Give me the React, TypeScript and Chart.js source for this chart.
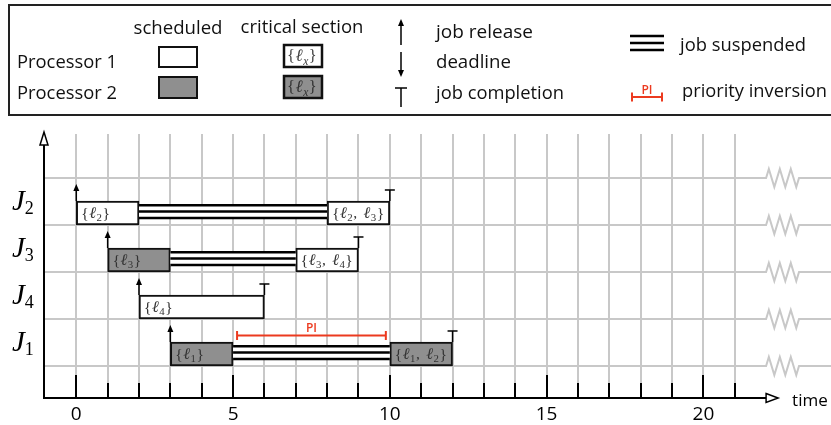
import React, { useEffect, useRef } from 'react';
import { Chart, registerables } from 'chart.js';

Chart.register(...registerables);

// ---------------- data ----------------
const rowJobs = ['J2', 'J3', 'J4', 'J1']; // top to bottom
const rowSubs = ['2', '3', '4', '1'];

const segJob = ['J2', 'J2', 'J3', 'J3', 'J4', 'J1', 'J1'];
const segStart = [0, 8, 1, 7, 2, 3, 10];
const segEnd = [2, 10, 3, 9, 6, 5, 12];
const segProcessor = [1, 1, 2, 1, 1, 2, 2];
const segLocks = [['2'], ['2', '3'], ['3'], ['3', '4'], ['4'], ['1'], ['1', '2']];

const suspJob = ['J2', 'J3', 'J1'];
const suspStart = [2, 3, 5];
const suspEnd = [8, 7, 10];

const releaseJob = ['J2', 'J3', 'J4', 'J1'];
const releaseTime = [0, 1, 2, 3];
const completionTime = [10, 9, 6, 12];

const piJob = 'J1';
const piStart = 5;
const piEnd = 10;

const gridTimes = [0, 1, 2, 3, 4, 5, 6, 7, 8, 9, 10, 11, 12, 13, 14, 15, 16, 17, 18, 19, 20, 21];
const tickLabels = [0, 5, 10, 15, 20];
const axisEnd = 22;
const breakStart = 22;
const breakEnd = 23.05;

// ---------------- styles ----------------
const SANS = '"Open Sans", Lato, sans-serif';
const SERIF = '"Liberation Serif", "DejaVu Serif", serif';
const GRAY_FILL = '#8f8f8f';
const GRID = '#c8c8c8';
const RED = '#ec3a1f';
const BAR_PX = 24;
const BAR_CENTER_OFF = 12 / 47;

const rowOf = (job: string) => rowJobs.length - 1 - rowJobs.indexOf(job);

function drawLocks(ctx: CanvasRenderingContext2D, x: number, y: number, locks: string[], size: number, color: string) {
  let cx = x;
  ctx.fillStyle = color;
  ctx.textBaseline = 'alphabetic';
  ctx.textAlign = 'left';
  const put = (t: string, fs: number, dy: number, italic = false, extra = 0) => {
    ctx.font = `${italic ? 'italic ' : ''}${fs}px ${SERIF}`;
    ctx.fillText(t, cx, y + dy);
    cx += ctx.measureText(t).width + extra;
  };
  put('{', size, 0, false, 0.5);
  locks.forEach((l, i) => {
    if (i) put(', ', size, 0, false, 2.5);
    put('ℓ', size * 1.05, 0, true, 0.5);
    put(l, size * 0.7, size * 0.22, /[a-z]/.test(l), 0.5);
  });
  put('}', size, 0);
}

function line(ctx: CanvasRenderingContext2D, x0: number, y0: number, x1: number, y1: number) {
  ctx.beginPath();
  ctx.moveTo(x0, y0);
  ctx.lineTo(x1, y1);
  ctx.stroke();
}

function fitText(ctx: CanvasRenderingContext2D, text: string, x: number, y: number, width: number, base: number, align: CanvasTextAlign = 'left') {
  ctx.font = `${base}px ${SANS}`;
  const w = ctx.measureText(text).width;
  const fs = Math.max(15, Math.min(base * 1.2, (base * width) / w));
  ctx.font = `${fs.toFixed(2)}px ${SANS}`;
  ctx.textAlign = align;
  ctx.fillText(text, x, y);
}

function upArrow(ctx: CanvasRenderingContext2D, x: number, yBottom: number, yTip: number) {
  ctx.strokeStyle = '#000';
  ctx.fillStyle = '#000';
  ctx.lineWidth = 1.5;
  line(ctx, x, yBottom, x, yTip + 5);
  ctx.beginPath();
  ctx.moveTo(x, yTip);
  ctx.lineTo(x - 3, yTip + 7);
  ctx.lineTo(x + 3, yTip + 7);
  ctx.closePath();
  ctx.fill();
}

function downArrow(ctx: CanvasRenderingContext2D, x: number, yTop: number, yTip: number) {
  ctx.strokeStyle = '#000';
  ctx.fillStyle = '#000';
  ctx.lineWidth = 1.5;
  line(ctx, x, yTop, x, yTip - 5);
  ctx.beginPath();
  ctx.moveTo(x, yTip);
  ctx.lineTo(x - 3, yTip - 7);
  ctx.lineTo(x + 3, yTip - 7);
  ctx.closePath();
  ctx.fill();
}

function tMark(ctx: CanvasRenderingContext2D, x: number, yBottom: number, yTop: number, half: number) {
  ctx.strokeStyle = '#000';
  ctx.lineWidth = 1.5;
  line(ctx, x, yBottom, x, yTop);
  line(ctx, x - half, yTop, x + half, yTop);
}

function piMark(ctx: CanvasRenderingContext2D, x0: number, x1: number, y: number, fs: number) {
  ctx.strokeStyle = RED;
  ctx.fillStyle = RED;
  ctx.lineWidth = 2;
  line(ctx, x0, y, x1, y);
  line(ctx, x0, y - 4.5, x0, y + 4.5);
  line(ctx, x1, y - 4.5, x1, y + 4.5);
  ctx.font = `600 ${fs}px ${SANS}`;
  ctx.textAlign = 'center';
  ctx.textBaseline = 'alphabetic';
  ctx.fillText('PI', (x0 + x1) / 2, y - 3);
}

const schedPlugin = {
  id: 'schedPlugin',
  beforeDatasetsDraw(chart: any) {
    const { ctx, chartArea: a, scales } = chart;
    const xs = scales.x;
    const ys = scales.y;
    ctx.save();
    // vertical grid
    ctx.strokeStyle = GRID;
    ctx.lineWidth = 2;
    gridTimes.forEach((t) => {
      const px = Math.round(xs.getPixelForValue(t));
      line(ctx, px, a.top, px, a.bottom);
    });
    // horizontal grid with break zigzag
    const z0 = xs.getPixelForValue(breakStart);
    const z1 = xs.getPixelForValue(breakEnd);
    const amp = 9;
    for (let r = 0; r <= rowJobs.length; r++) {
      const py = Math.round(ys.getPixelForValue(r));
      ctx.beginPath();
      ctx.moveTo(a.left, py);
      ctx.lineTo(z0, py);
      const fr = [1 / 12, 3 / 12, 5 / 12, 7 / 12, 9 / 12, 11 / 12];
      fr.forEach((f, i) => ctx.lineTo(z0 + (z1 - z0) * f, py + (i % 2 === 0 ? -amp : amp)));
      ctx.lineTo(z1, py);
      ctx.lineTo(a.right, py);
      ctx.stroke();
    }
    // axes
    ctx.strokeStyle = '#000';
    ctx.lineWidth = 2;
    const xEnd = xs.getPixelForValue(axisEnd);
    line(ctx, a.left, a.bottom, xEnd, a.bottom);
    line(ctx, a.left, a.bottom + 1, a.left, a.top + 11);
    ctx.lineWidth = 1.5;
    ctx.fillStyle = '#fff';
    ctx.beginPath();
    ctx.moveTo(xEnd, a.bottom - 4.5);
    ctx.lineTo(xEnd + 12, a.bottom);
    ctx.lineTo(xEnd, a.bottom + 4.5);
    ctx.closePath();
    ctx.fill();
    ctx.stroke();
    ctx.beginPath();
    ctx.moveTo(a.left - 4, a.top + 11);
    ctx.lineTo(a.left, a.top - 2);
    ctx.lineTo(a.left + 4, a.top + 11);
    ctx.closePath();
    ctx.fill();
    ctx.stroke();
    // ticks
    ctx.lineWidth = 2;
    gridTimes.forEach((t) => {
      const px = Math.round(xs.getPixelForValue(t));
      const len = t % 5 === 0 ? 23 : 15;
      line(ctx, px, a.bottom, px, a.bottom - len);
    });
    ctx.restore();
  },
  afterDatasetsDraw(chart: any) {
    const { ctx, scales } = chart;
    const xs = scales.x;
    const ys = scales.y;
    const barTop = (job: string) => ys.getPixelForValue(rowOf(job)) - BAR_PX;
    ctx.save();
    // suspension lines
    suspJob.forEach((j, i) => {
      const x0 = xs.getPixelForValue(suspStart[i]);
      const x1 = xs.getPixelForValue(suspEnd[i]);
      const top = barTop(j);
      ctx.fillStyle = '#fff';
      ctx.fillRect(x0, top + 3, x1 - x0, 15);
      ctx.strokeStyle = '#000';
      ctx.lineWidth = 2.5;
      [4.2, 10.6, 17].forEach((d) => line(ctx, x0, top + d, x1, top + d));
    });
    // critical section labels
    segJob.forEach((j, i) => {
      const x0 = xs.getPixelForValue(segStart[i]);
      drawLocks(ctx, x0 + 5, barTop(j) + 17, segLocks[i], 15.5, '#333');
    });
    // release arrows
    releaseJob.forEach((j, i) => {
      const x = xs.getPixelForValue(releaseTime[i]);
      const top = barTop(j);
      upArrow(ctx, x, top, top - 17);
    });
    // completion marks
    releaseJob.forEach((j, i) => {
      const x = xs.getPixelForValue(completionTime[i]);
      const top = barTop(j);
      tMark(ctx, x, top, top - 11, 5);
    });
    // priority inversion
    const pTop = barTop(piJob);
    piMark(ctx, xs.getPixelForValue(piStart) + 4, xs.getPixelForValue(piEnd) - 4, pTop - 6.5, 12);
    ctx.restore();
  },
  afterDraw(chart: any) {
    const { ctx, chartArea: a, scales } = chart;
    const xs = scales.x;
    const ys = scales.y;
    ctx.save();
    // tick labels
    ctx.fillStyle = '#000';
    ctx.font = `19px ${SANS}`;
    ctx.textAlign = 'center';
    ctx.textBaseline = 'alphabetic';
    tickLabels.forEach((t) => ctx.fillText(String(t), xs.getPixelForValue(t), a.bottom + 22));
    ctx.font = `17px ${SANS}`;
    ctx.textAlign = 'left';
    ctx.fillText('time', xs.getPixelForValue(axisEnd) + 26, a.bottom + 8);
    // row labels
    rowJobs.forEach((j, i) => {
      const top = ys.getPixelForValue(rowOf(j)) - BAR_PX;
      ctx.font = `italic 29px ${SERIF}`;
      ctx.fillText('J', 12, top + 9);
      const w = ctx.measureText('J').width;
      ctx.font = `18px ${SERIF}`;
      ctx.fillText(rowSubs[i], 12 + w, top + 13);
    });

    // ---------- legend ----------
    ctx.strokeStyle = '#222';
    ctx.lineWidth = 2;
    ctx.strokeRect(9, 5, 840, 110);
    ctx.fillStyle = '#111';
    ctx.textBaseline = 'alphabetic';
    fitText(ctx, 'scheduled', 178, 34, 89, 17, 'center');
    fitText(ctx, 'critical section', 302, 33, 123, 17, 'center');
    fitText(ctx, 'Processor 1', 17, 68, 100, 17);
    fitText(ctx, 'Processor 2', 17, 99, 100, 17);
    fitText(ctx, 'job release', 436, 38, 97, 17);
    fitText(ctx, 'deadline', 436, 68, 75, 17);
    fitText(ctx, 'job completion', 436, 99, 128, 17);
    fitText(ctx, 'job suspended', 680, 51, 126, 17);
    fitText(ctx, 'priority inversion', 682, 97, 145, 17);
    // scheduled boxes
    ctx.lineWidth = 2;
    ctx.strokeStyle = '#111';
    ctx.fillStyle = '#fff';
    ctx.fillRect(159, 47, 38, 20);
    ctx.strokeRect(159, 47, 38, 20);
    ctx.fillStyle = GRAY_FILL;
    ctx.fillRect(159, 77, 38, 21);
    ctx.strokeRect(159, 77, 38, 21);
    // critical section boxes
    ctx.lineWidth = 2.5;
    ctx.fillStyle = '#fff';
    ctx.fillRect(284, 45, 38, 22);
    ctx.strokeRect(284, 45, 38, 22);
    drawLocks(ctx, 287, 61, ['x'], 16.5, '#444');
    ctx.fillStyle = GRAY_FILL;
    ctx.fillRect(284, 76, 38, 22);
    ctx.strokeStyle = '#111';
    ctx.strokeRect(284, 76, 38, 22);
    drawLocks(ctx, 287, 92, ['x'], 16.5, '#333');
    // symbols
    upArrow(ctx, 401, 45, 19);
    downArrow(ctx, 401, 52, 77);
    tMark(ctx, 401, 107, 88, 6);
    ctx.strokeStyle = '#000';
    ctx.lineWidth = 2.5;
    [36, 43, 50].forEach((y) => line(ctx, 630, y, 664, y));
    piMark(ctx, 632, 662, 97, 12);
    ctx.restore();
  },
};

export default function App() {
  const ref = useRef<HTMLCanvasElement | null>(null);
  useEffect(() => {
    if (!ref.current) return;
    const chart = new Chart(ref.current, {
      type: 'bar',
      data: {
        datasets: [
          {
            data: segJob.map((j, i) => ({ x: [segStart[i], segEnd[i]], y: rowOf(j) + BAR_CENTER_OFF })) as any,
            backgroundColor: (c: any) => (segProcessor[c.dataIndex] === 2 ? GRAY_FILL : '#ffffff'),
            borderColor: '#111',
            borderWidth: 2,
            borderSkipped: false,
            barThickness: BAR_PX,
          } as any,
        ],
      },
      options: {
        indexAxis: 'y',
        animation: false,
        responsive: false,
        maintainAspectRatio: false,
        devicePixelRatio: 1,
        events: [],
        layout: { padding: { left: 44, right: 0, top: 134, bottom: 27 } },
        scales: {
          x: { type: 'linear', min: -1.03, max: 24.07, display: false, offset: false, grace: 0 },
          y: { type: 'linear', min: -0.681, max: 4.936, display: false, offset: false, grace: 0 },
        },
        plugins: { legend: { display: false }, tooltip: { enabled: false } },
      } as any,
      plugins: [schedPlugin],
    });
    return () => chart.destroy();
  }, []);
  return (
    <div style={{ position: 'absolute', left: 0, top: 0, width: 831, height: 425, background: '#fff' }}>
      <canvas ref={ref} width={831} height={425} style={{ display: 'block' }} />
    </div>
  );
}
